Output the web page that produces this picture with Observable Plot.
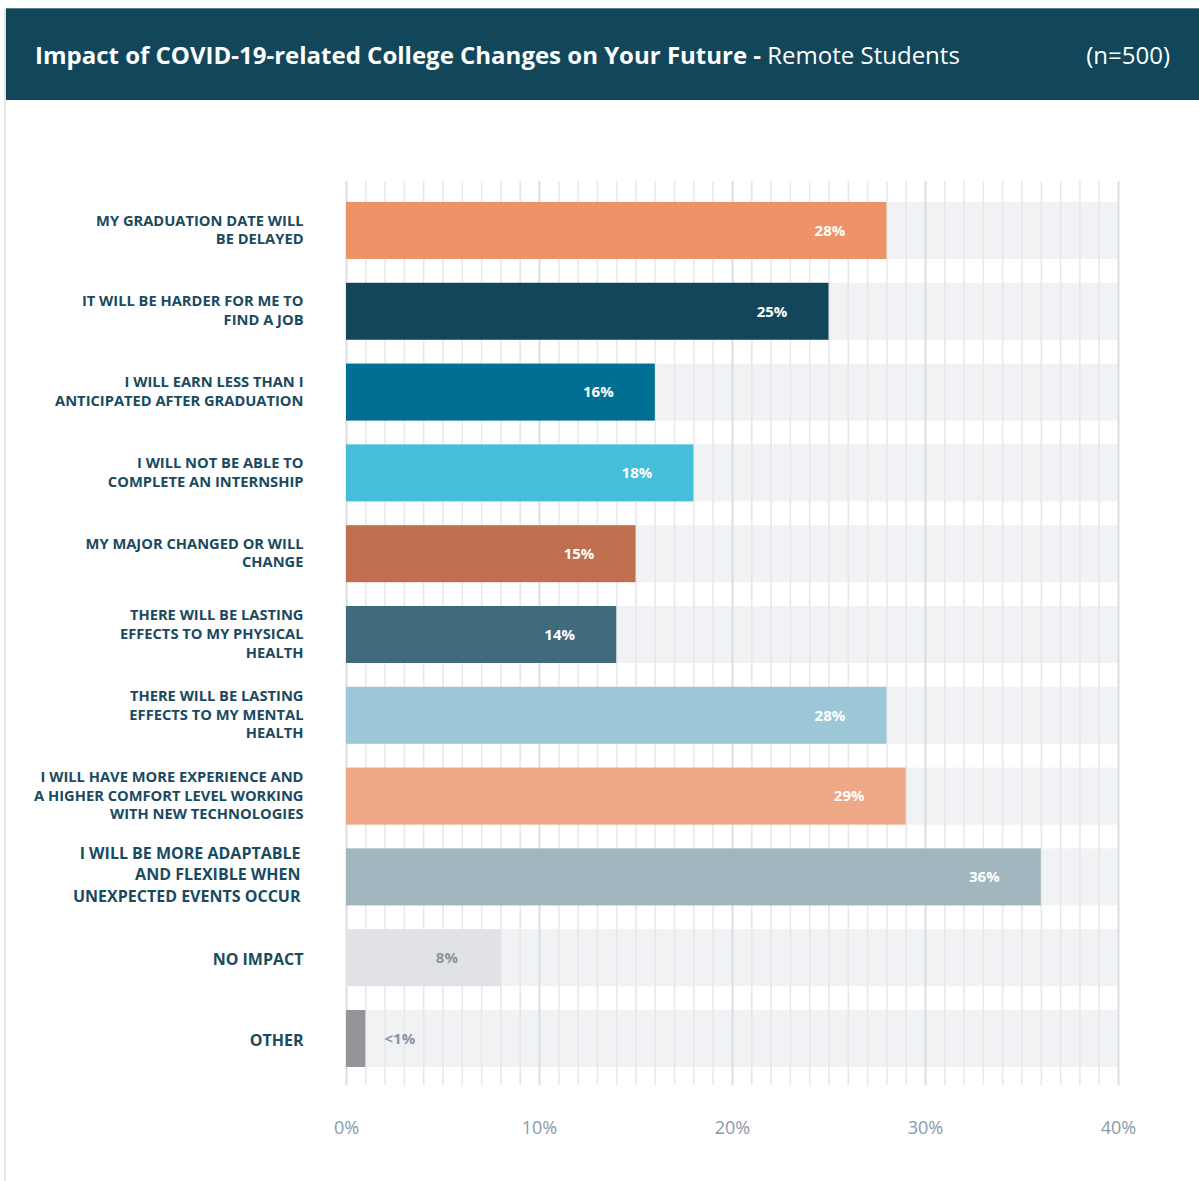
<!DOCTYPE html>
<html>
<head>
<meta charset="utf-8">
<script src="https://cdn.jsdelivr.net/npm/d3@7"></script>
<script src="https://cdn.jsdelivr.net/npm/@observablehq/plot@0.6"></script>
<style>
  html, body { margin: 0; padding: 0; background: #fff; }
  body { width: 1199px; height: 1181px; position: relative; overflow: hidden; font-family: "Open Sans", sans-serif; }
  #border { position: absolute; left: 4px; top: 8px; width: 2px; height: 1173px; background: #e3e5e8; }
  #header { position: absolute; left: 6px; top: 8px; width: 1193px; height: 92px; background: #12475b; border-top: 1px solid #5d7f8c; box-sizing: border-box; color: #fff; }
  #title { position: absolute; left: 29px; top: 29px; font-size: 24px; white-space: nowrap; }
  #title b { font-weight: 700; }
  #n { position: absolute; right: 29px; top: 29px; font-size: 24px; }
  #chart { position: absolute; left: 0; top: 100px; }
</style>
</head>
<body>
<div id="border"></div>
<div id="header">
  <div id="title"><b>Impact of COVID-19-related College Changes on Your Future -</b> Remote Students</div>
  <div id="n">(n=500)</div>
</div>
<div id="chart"></div>
<script>
const categories = [
  "MY GRADUATION DATE WILL\nBE DELAYED",
  "IT WILL BE HARDER FOR ME TO\nFIND A JOB",
  "I WILL EARN LESS THAN I\nANTICIPATED AFTER GRADUATION",
  "I WILL NOT BE ABLE TO\nCOMPLETE AN INTERNSHIP",
  "MY MAJOR CHANGED OR WILL\nCHANGE",
  "THERE WILL BE LASTING\nEFFECTS TO MY PHYSICAL\nHEALTH",
  "THERE WILL BE LASTING\nEFFECTS TO MY MENTAL\nHEALTH",
  "I WILL HAVE MORE EXPERIENCE AND\nA HIGHER COMFORT LEVEL WORKING\nWITH NEW TECHNOLOGIES",
  "I WILL BE MORE ADAPTABLE\nAND FLEXIBLE WHEN\nUNEXPECTED EVENTS OCCUR",
  "NO IMPACT",
  "OTHER"
];
const values = [28, 25, 16, 18, 15, 14, 28, 29, 36, 8, 1];
const valueLabels = ["28%", "25%", "16%", "18%", "15%", "14%", "28%", "29%", "36%", "8%", "<1%"];
const tickValues = [0, 10, 20, 30, 40];
const tickLabels = ["0%", "10%", "20%", "30%", "40%"];
const colors = ["#ee9368", "#12475b", "#006f94", "#46bdd9", "#c0704f", "#3f6b7d", "#9bc7d6", "#efa886", "#a1b6be", "#e0e2e5", "#939598"];

const rows = categories.map((c, i) => ({
  key: i,
  category: c,
  value: values[i],
  label: valueLabels[i],
  color: colors[i]
}));

const minor = d3.range(0, 41).filter(v => v % 10 !== 0);
const major = tickValues;
const isBig = d => d.category.startsWith("I WILL BE MORE");
const isSingle = d => !d.category.includes("\n");

const chart = Plot.plot({
  width: 1199,
  height: 1081,
  marginLeft: 346,
  marginRight: 81,
  marginTop: 81,
  marginBottom: 96,
  style: { fontFamily: "Open Sans, sans-serif", background: "transparent" },
  x: { domain: [0, 40], axis: null },
  y: { domain: rows.map(d => d.key), axis: null, round: false, paddingInner: 0.2946, paddingOuter: 0.2413, align: 0.538 },
  marks: [
    Plot.barX(rows, { x1: 0, x2: 40, y: "key", fill: "#f1f2f4" }),
    Plot.ruleX(minor, { stroke: "#e6e8eb", strokeWidth: 1.6 }),
    Plot.ruleX(major, { stroke: "#dadde2", strokeWidth: 2 }),
    Plot.barX(rows, { x: "value", y: "key", fill: "color" }),
    Plot.text(rows.filter(d => d.value >= 10), {
      x: "value", y: "key", text: "label", dx: -57,
      fill: "#ffffff", fontWeight: 700, fontSize: 15
    }),
    Plot.text(rows.filter(d => d.value < 10 && d.value > 2), {
      x: "value", y: "key", text: "label", dx: -54,
      fill: "#8794a3", fontWeight: 700, fontSize: 15
    }),
    Plot.text(rows.filter(d => d.value <= 2), {
      x: "value", y: "key", text: "label", dx: 34,
      fill: "#8794a3", fontWeight: 700, fontSize: 15
    }),
    Plot.text(rows.filter(d => !isBig(d) && !isSingle(d)), {
      x: 0, y: "key", text: "category", dx: -43, dy: -2, textAnchor: "end",
      fill: "#1a4a5e", fontWeight: 700, lineHeight: 1.27, fontSize: 14.7
    }),
    Plot.text(rows.filter(isSingle), {
      x: 0, y: "key", text: "category", dx: -43, dy: 2, textAnchor: "end",
      fill: "#1a4a5e", fontWeight: 700, fontSize: 16
    }),
    Plot.text(rows.filter(isBig), {
      x: 0, y: "key", text: "category", dx: -46, dy: -4, textAnchor: "end",
      fill: "#1a4a5e", fontWeight: 700, lineHeight: 1.34, fontSize: 16
    }),
    Plot.text(tickValues, {
      x: d => d, frameAnchor: "bottom", dy: 48,
      text: (d, i) => tickLabels[i], fill: "#8a99aa", fontSize: 18
    })
  ]
});
document.getElementById("chart").appendChild(chart);
</script>
</body>
</html>
